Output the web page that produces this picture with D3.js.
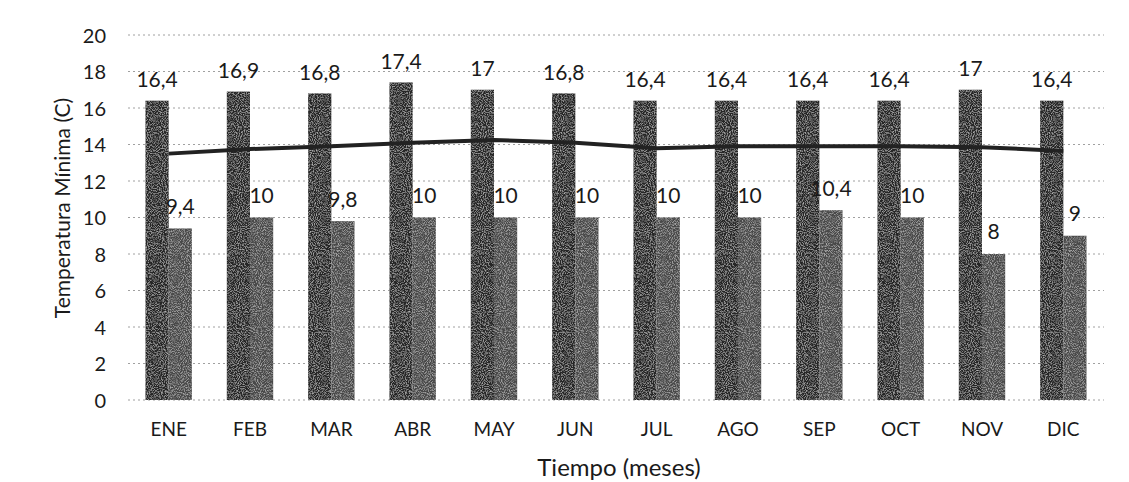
<!DOCTYPE html>
<html>
<head>
<meta charset="utf-8">
<script src="https://cdn.jsdelivr.net/npm/d3@7"></script>
<style>
  html, body { margin: 0; padding: 0; background: #fff; }
  svg text { font-family: Lato, "Open Sans", sans-serif; fill: #1a1a1a; }
</style>
</head>
<body>
<svg id="chart" width="1129" height="482"></svg>
<script>
// Monthly temperatures (°C)
const months = ["ENE","FEB","MAR","ABR","MAY","JUN","JUL","AGO","SEP","OCT","NOV","DIC"];
const seriesHigh = [16.4,16.9,16.8,17.4,17,16.8,16.4,16.4,16.4,16.4,17,16.4];
const seriesLow  = [9.4,10,9.8,10,10,10,10,10,10.4,10,8,9];
const seriesLine = [13.5,13.75,13.9,14.1,14.25,14.1,13.8,13.9,13.9,13.9,13.85,13.65];
const yTicks = [0,2,4,6,8,10,12,14,16,18,20];

const svg = d3.select("#chart");
const margin = { left: 128, right: 25, top: 35, bottom: 82 };
const W = 1129, H = 482;

const x = d3.scaleBand().domain(months).range([margin.left, W - margin.right]).paddingInner(0.43).paddingOuter(0.215);
const x1 = d3.scaleBand().domain(["high","low"]).range([0, x.bandwidth()]);
const y = d3.scaleLinear().domain([0, 20]).range([H - margin.bottom, margin.top]);

const fmt = v => String(v).replace(".", ",");

// dotted horizontal gridlines
svg.append("g").selectAll("line").data(yTicks).join("line")
  .attr("x1", margin.left).attr("x2", W - margin.right)
  .attr("y1", d => y(d)).attr("y2", d => y(d))
  .attr("stroke", "#a0a0a0").attr("stroke-width", 1)
  .attr("stroke-dasharray", "2,3");

// y axis labels
const yAxis = d3.axisLeft(y).tickValues(yTicks).tickSize(0).tickPadding(0);
svg.append("g").attr("transform", `translate(${margin.left - 22},0)`).call(yAxis)
  .call(g => g.select(".domain").remove())
  .selectAll("text").attr("font-size", 20).attr("dy", "0.35em");

// x axis labels
const xAxis = d3.axisBottom(x).tickSize(0).tickPadding(0);
svg.append("g").attr("transform", `translate(0,${y(0) + 22})`).call(xAxis)
  .call(g => g.select(".domain").remove())
  .selectAll("text").attr("font-size", 19).attr("dy", "0.71em");

// grain texture for the bars
const defs = svg.append("defs");
const f = defs.append("filter").attr("id", "grain").attr("x", 0).attr("y", 0).attr("width", 1).attr("height", 1);
f.append("feTurbulence").attr("type", "fractalNoise").attr("baseFrequency", 0.95).attr("numOctaves", 2).attr("seed", 3).attr("result", "noise");
f.append("feColorMatrix").attr("in", "noise").attr("type", "matrix")
  .attr("values", "0 0 0 0 0.62  0 0 0 0 0.62  0 0 0 0 0.62  0 0 0 1.6 -0.7").attr("result", "speck");
f.append("feComposite").attr("in", "speck").attr("in2", "SourceGraphic").attr("operator", "in").attr("result", "sp");
f.append("feMerge").selectAll("feMergeNode").data(["SourceGraphic","sp"]).join("feMergeNode").attr("in", d => d);

const groups = svg.append("g").selectAll("g").data(months).join("g")
  .attr("transform", d => `translate(${x(d)},0)`);

groups.append("rect")
  .attr("x", x1("high")).attr("width", x1.bandwidth())
  .attr("y", (d, i) => y(seriesHigh[i])).attr("height", (d, i) => y(0) - y(seriesHigh[i]))
  .attr("fill", "#262626").attr("filter", "url(#grain)");

groups.append("rect")
  .attr("x", x1("low")).attr("width", x1.bandwidth())
  .attr("y", (d, i) => y(seriesLow[i])).attr("height", (d, i) => y(0) - y(seriesLow[i]))
  .attr("fill", "#4a4a4a").attr("filter", "url(#grain)");

// value labels
groups.append("text")
  .attr("x", x1("high") + x1.bandwidth() / 2)
  .attr("y", (d, i) => y(seriesHigh[i]) - 21)
  .attr("text-anchor", "middle").attr("dy", "0.35em").attr("font-size", 21)
  .text((d, i) => fmt(seriesHigh[i]));

groups.append("text")
  .attr("x", x1("low") + x1.bandwidth() / 2)
  .attr("y", (d, i) => y(seriesLow[i]) - 22)
  .attr("text-anchor", "middle").attr("dy", "0.35em").attr("font-size", 21)
  .text((d, i) => fmt(seriesLow[i]));

// mean line
const line = d3.line().x((d, i) => x(months[i]) + x.bandwidth() / 2).y(d => y(d));
svg.append("path").datum(seriesLine)
  .attr("d", line).attr("fill", "none")
  .attr("stroke", "#222").attr("stroke-width", 4);

// axis titles
svg.append("text")
  .attr("transform", `translate(63,208) rotate(-90)`)
  .attr("text-anchor", "middle").attr("dy", "0.35em").attr("font-size", 21)
  .text("Temperatura Mínima (C)");

svg.append("text")
  .attr("x", 619).attr("y", 468)
  .attr("text-anchor", "middle").attr("dy", "0.35em").attr("font-size", 24)
  .text("Tiempo (meses)");
</script>
</body>
</html>
